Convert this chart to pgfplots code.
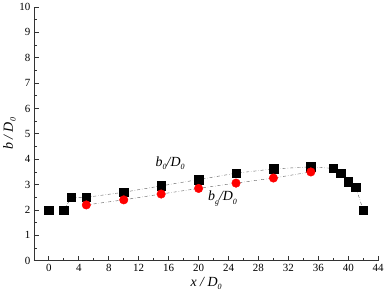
\documentclass[border=0pt]{standalone}
\usepackage{fontspec}
\setmainfont{Liberation Serif}
\usepackage{pgfplots}
\pgfplotsset{compat=1.18}
\begin{document}
\begin{tikzpicture}
\begin{axis}[
  scale only axis,
  width=346pt, height=255pt,
  xmin=-2, xmax=44, ymin=0, ymax=10,
  axis lines*=left,
  axis line style={-, thick, black!80},
  xtick={0,4,...,44}, ytick={0,1,...,10},
  minor x tick num=1, minor y tick num=1,
  tick align=inside,
  major tick length=5pt, minor tick length=3pt,
  tick style={thick, black!80},
  ticklabel style={font=\fontsize{11}{12}\selectfont},
  /pgf/number format/assume math mode=true,
  xlabel={\itshape x / D\raisebox{-0.4ex}{\footnotesize 0}},
  ylabel={\itshape b / D\raisebox{-0.4ex}{\footnotesize 0}},
  label style={font=\fontsize{14}{15}\selectfont},
  xlabel style={yshift=1pt},
  ylabel style={yshift=-3pt},
  clip=false,
]
\addplot[only marks, mark=square*, mark size=4.3pt, black] coordinates {
  (0,2) (2,2)
};
\addplot[gray!70!black, thin, dash dot, mark=square*, mark size=4.3pt, mark options={solid, black, fill=black}] coordinates {
  (2,2) (3,2.5) (5,2.5) (10,2.7) (15,2.95) (20,3.2) (25,3.45) (30,3.62) (35,3.7) (38,3.64) (39,3.45) (40,3.12) (41,2.9) (42,2.0)
};
\addplot[gray!70!black, thin, dash dot, mark=*, mark size=4.3pt, mark options={solid, red, fill=red}] coordinates {
  (5,2.2) (10,2.4) (15,2.63) (20,2.85) (25,3.06) (30,3.26) (35,3.5)
};
\node[font=\fontsize{14}{15}\selectfont\itshape] at (axis cs:16.2,3.85) {b\raisebox{-0.5ex}{\footnotesize 0}/D\raisebox{-0.5ex}{\footnotesize 0}};
\node[font=\fontsize{14}{15}\selectfont\itshape] at (axis cs:23.2,2.45) {b\raisebox{-0.5ex}{\footnotesize g}/D\raisebox{-0.5ex}{\footnotesize 0}};
\end{axis}
\end{tikzpicture}
\end{document}
